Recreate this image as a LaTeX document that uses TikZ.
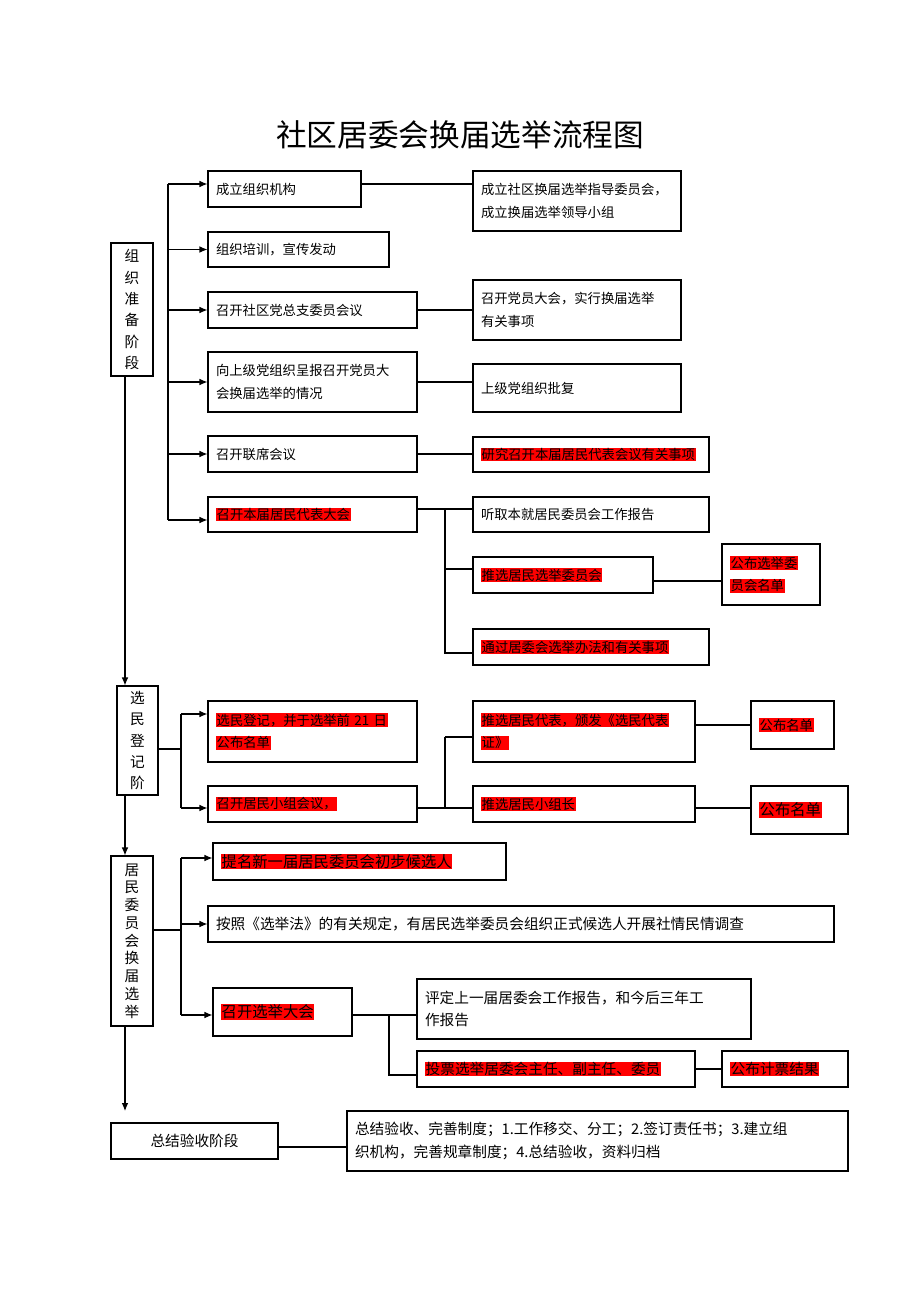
\documentclass[tikz,border=0pt]{standalone}
\usepackage{fontspec}
\setmainfont{Noto Sans CJK SC}
\usetikzlibrary{arrows.meta}
\newcommand\hl[1]{{\setlength\fboxsep{0.5pt}\colorbox{red}{#1}}}
\newcommand\mybox[6]{%
  \pgfmathsetmacro\bw{(#4-#2)*0.75}\pgfmathsetmacro\bh{(#5-#3)*0.75}\pgfmathsetmacro\tw{\bw-12}%
  \node[box,minimum width=\bw pt,minimum height=\bh pt,text width=\tw pt] (#1) at ({(#2+#4)/2},{(#3+#5)/2}) {#6};}
\begin{document}
\begin{tikzpicture}[x=0.75pt,y=-0.75pt,
  box/.style={draw,line width=0.8pt,inner xsep=6pt,inner ysep=2pt,align=left,font=\fontsize{10}{17}\selectfont},
  stage/.style={draw,line width=0.8pt,align=center,inner sep=2pt,font=\fontsize{11}{16}\selectfont},
  arr/.style={line width=0.8pt,-{Latex[length=6pt,width=5pt]}},
  ln/.style={line width=0.8pt}]
\useasboundingbox (0,0) rectangle (920,1302);
\node[font=\fontsize{23}{26}\selectfont] (title) at (460,135) {社区居委会换届选举流程图};
% stages
\node[stage,minimum width=31.5pt,minimum height=99.75pt] (S1) at (132,309.5) {组\\织\\准\\备\\阶\\段};
\node[stage,minimum width=30.75pt,minimum height=81.75pt] (S2) at (137.5,740.5) {选\\民\\登\\记\\阶};
\node[stage,minimum width=31.5pt,minimum height=127.5pt,font=\fontsize{11}{13.3}\selectfont] (S3) at (132,941) {居\\民\\委\\员\\会\\换\\届\\选\\举};
\node[stage,minimum width=125.25pt,minimum height=27pt,font=\fontsize{11}{14}\selectfont] (S4) at (194.5,1141) {总结验收阶段};
% column 1
\mybox{A1}{208}{171}{361}{207}{成立组织机构}
\mybox{A2}{208}{232}{389}{267}{组织培训，宣传发动}
\mybox{A3}{208}{292}{417}{328}{召开社区党总支委员会议}
\mybox{A4}{208}{352}{417}{412}{向上级党组织呈报召开党员大\\会换届选举的情况}
\mybox{A5}{208}{436}{417}{472}{召开联席会议}
\mybox{A6}{208}{497}{417}{532}{\hl{召开本届居民代表大会}}
% column 2
\mybox{B1}{473}{171}{681}{231}{成立社区换届选举指导委员会，\\成立换届选举领导小组}
\mybox{B3}{473}{280}{681}{340}{召开党员大会，实行换届选举\\有关事项}
\mybox{B4}{473}{364}{681}{412}{上级党组织批复}
\mybox{B5}{473}{437}{709}{472}{\hl{研究召开本届居民代表会议有关事项}}
\mybox{B6}{473}{497}{709}{532}{听取本就居民委员会工作报告}
\mybox{B7}{473}{557}{653}{593}{\hl{推选居民选举委员会}}
\mybox{B8}{473}{629}{709}{665}{\hl{通过居委会选举办法和有关事项}}
\mybox{C7}{722}{544}{820}{605}{\hl{公布选举委}\\\hl{员会名单}}
% stage 2
\mybox{D1}{208}{701}{417}{762}{\hl{选民登记，并于选举前 21 日}\\\hl{公布名单}}
\mybox{D2}{208}{786}{417}{822}{\hl{召开居民小组会议，}}
\mybox{E1}{473}{701}{695}{762}{\hl{推选居民代表，颁发《选民代表}\\\hl{证》}}
\mybox{E2}{473}{786}{695}{822}{\hl{推选居民小组长}}
\mybox{F1}{751}{701}{834}{749}{\hl{公布名单}}
\mybox{F2}{751}{786}{848}{834}{\fontsize{11.5}{14}\selectfont\hl{公布名单}}
% stage 3
\mybox{G1}{213}{843}{506}{880}{\fontsize{11.5}{14}\selectfont\hl{提名新一届居民委员会初步候选人}}
\mybox{G2}{208}{906}{834}{942}{\fontsize{11}{14}\selectfont 按照《选举法》的有关规定，有居民选举委员会组织正式候选人开展社情民情调查}
\mybox{G3}{213}{988}{352}{1036}{\fontsize{11.5}{14}\selectfont\hl{召开选举大会}}
\mybox{H1}{417}{979}{751}{1039}{\fontsize{11}{18}\selectfont 评定上一届居委会工作报告，和今后三年工\\作报告}
\mybox{H2}{417}{1051}{695}{1087}{\fontsize{11}{14}\selectfont\hl{投票选举居委会主任、副主任、委员}}
\mybox{I2}{722}{1051}{848}{1087}{\fontsize{11}{14}\selectfont\hl{公布计票结果}}
\mybox{J}{347}{1111}{848}{1171}{\fontsize{11}{18}\selectfont 总结验收、完善制度；1.工作移交、分工；2.签订责任书；3.建立组\\织机构，完善规章制度；4.总结验收，资料归档}
% bracket 1
\coordinate (bt) at (168,184);
\coordinate (bb) at (168,520);
\draw[ln] (bt) -- (bb);
\draw[arr] (bt) -- (bt -| A1.west);
\foreach \n in {A2,A3,A4,A5} \draw[arr] (bt |- \n.west) -- (\n.west);
\draw[arr] (bb) -- (bb -| A6.west);
\draw[ln] (A1.east |- bt) -- (bt -| B1.west);
\draw[ln] (A3.east) -- (A3.east -| B3.west);
\draw[ln] (A4.east) -- (A4.east -| B4.west);
\draw[ln] (A5.east) -- (A5.east -| B5.west);
\coordinate (k1) at (445,509);
\coordinate (k2) at (445,653);
\draw[ln] (A6.east |- k1) -- (k1 -| B6.west);
\draw[ln] (k1) -- (k2) -- (k2 -| B8.west);
\draw[ln] (k1 |- 569,569) -- (B7.west |- 569,569);
\draw[ln] (B7.east |- 581,581) -- (C7.west |- 581,581);
% stage arrows
\coordinate (e3) at (125,1111);
\draw[arr] (S1.south -| e3) -- (S2.north -| e3);
\draw[arr] (S2.south -| e3) -- (S3.north -| e3);
\draw[arr] (S3.south -| e3) -- (e3);
% stage 2 bracket
\coordinate (m1) at (181,714);
\coordinate (m2) at (181,808);
\draw[ln] (S2.east |- 749,749) -- (m1 |- 749,749);
\draw[ln] (m1) -- (m2);
\draw[arr] (m1) -- (m1 -| D1.west);
\draw[arr] (m2) -- (m2 -| D2.west);
\coordinate (n1) at (445,737);
\coordinate (n2) at (445,808);
\draw[ln] (D2.east |- n2) -- (n2 -| E2.west);
\draw[ln] (n1) -- (n2);
\draw[ln] (n1) -- (n1 -| E1.west);
\draw[ln] (E1.east |- 725,725) -- (F1.west |- 725,725);
\draw[ln] (E2.east |- n2) -- (n2 -| F2.west);
% stage 3 bracket
\coordinate (p1) at (181,858);
\coordinate (p2) at (181,1015);
\draw[ln] (S3.east |- 930,930) -- (p1 |- 930,930);
\draw[ln] (p1) -- (p2);
\draw[arr] (p1) -- (p1 -| G1.west);
\draw[arr] (p1 |- G2.west) -- (G2.west);
\draw[arr] (p2) -- (p2 -| G3.west);
\coordinate (q1) at (389,1015);
\coordinate (q2) at (389,1075);
\draw[ln] (G3.east |- q1) -- (q1 -| H1.west);
\draw[ln] (q1) -- (q2) -- (q2 -| H2.west);
\draw[ln] (H2.east |- 1069,1069) -- (I2.west |- 1069,1069);
\draw[ln] (S4.east |- 1147,1147) -- (J.west |- 1147,1147);
\end{tikzpicture}
\end{document}
